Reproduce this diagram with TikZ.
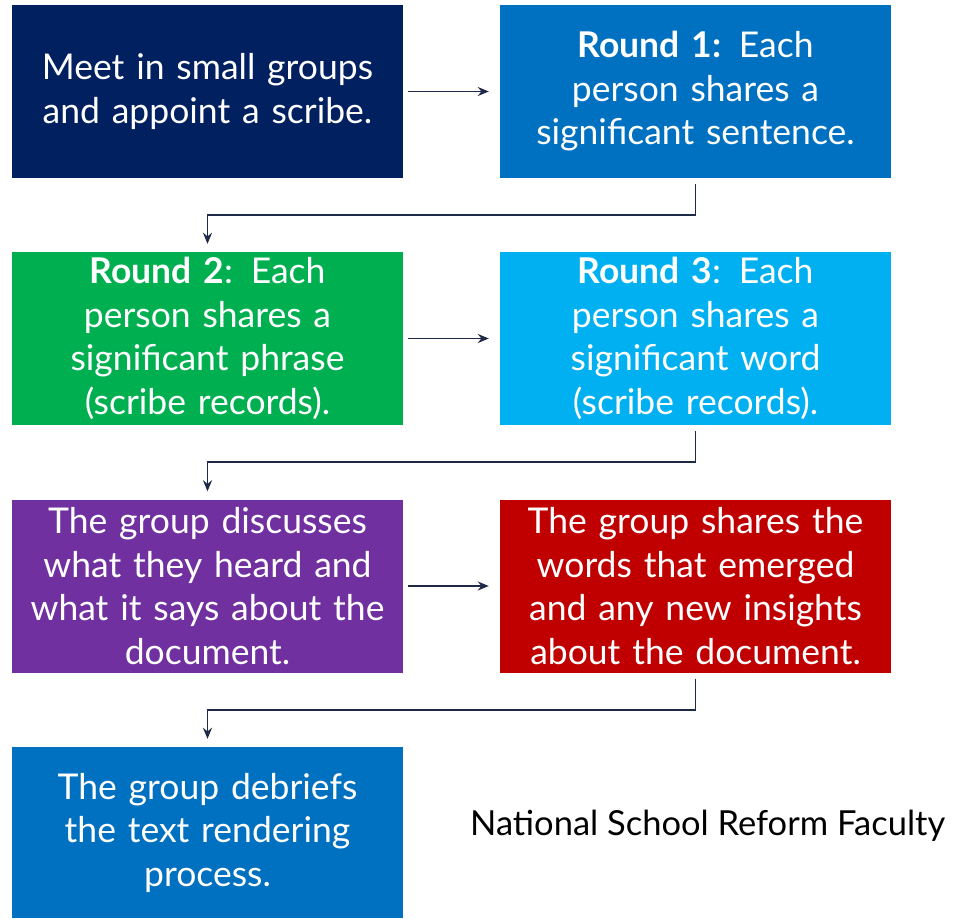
\documentclass[tikz,border=0pt]{standalone}
\usepackage{fontspec}
\setmainfont{Lato}
\usepackage{tikz}
\usetikzlibrary{arrows.meta}

\definecolor{stepnavy}{HTML}{002060}
\definecolor{stepblue}{HTML}{0070C0}
\definecolor{stepgreen}{HTML}{00B050}
\definecolor{stepsky}{HTML}{00B0F0}
\definecolor{steppurple}{HTML}{7030A0}
\definecolor{stepred}{HTML}{C00000}
\definecolor{linknavy}{HTML}{1F2A48}

\begin{document}
\begin{tikzpicture}[
  x=1pt, y=-1pt,
  stepbox/.style={minimum width=391pt, minimum height=173pt, inner sep=0pt,
    text=white, text width=389pt, align=center,
    font=\fontsize{35.5}{43.5}\selectfont},
  link/.style={linknavy, line width=1.8pt, -{Stealth[length=11pt,width=9pt]}},
]
\useasboundingbox (0,0) rectangle (963,918);
% the seven steps, two per row
\node[stepbox, fill=stepnavy] (meet) at (207.5,91.5)
  {Meet in small groups\\and appoint a scribe.};
\node[stepbox, fill=stepblue] (roundone) at (695.5,91.5)
  {\textbf{Round 1:} Each\\person shares a\\significant sentence.};
\node[stepbox, fill=stepgreen] (roundtwo) at (207.5,338.5)
  {\textbf{Round 2}: Each\\person shares a\\significant phrase\\(scribe records).};
\node[stepbox, fill=stepsky] (roundthree) at (695.5,338.5)
  {\textbf{Round 3}: Each\\person shares a\\significant word\\(scribe records).};
\node[stepbox, fill=steppurple] (discuss) at (207.5,586)
  {The group discusses\\what they heard and\\what it says about the\\document.};
\node[stepbox, fill=stepred] (share) at (695.5,586)
  {The group shares the\\words that emerged\\and any new insights\\about the document.};
\node[stepbox, fill=stepblue, minimum height=171pt] (debrief) at (207.5,832.5)
  {The group debriefs\\the text rendering\\process.};
\node[font=\fontsize{34.5}{40}\selectfont, anchor=west, inner sep=0pt] (nsrf) at (470,826)
  {National School Reform Faculty};
% connectors
\draw[link, shorten <=5pt, shorten >=11pt] (meet) -- (roundone);
\draw[link, shorten <=5pt, shorten >=11pt] (roundtwo) -- (roundthree);
\draw[link, shorten <=5pt, shorten >=11pt] (discuss) -- (share);
\draw[link, shorten <=6pt, shorten >=8pt] (roundone.south) -- ++(0,37) -| (roundtwo.north);
\draw[link, shorten <=6pt, shorten >=8pt] (roundthree.south) -- ++(0,37) -| (discuss.north);
\draw[link, shorten <=6pt, shorten >=8pt] (share.south) -- ++(0,37) -| (debrief.north);
\end{tikzpicture}
\end{document}
